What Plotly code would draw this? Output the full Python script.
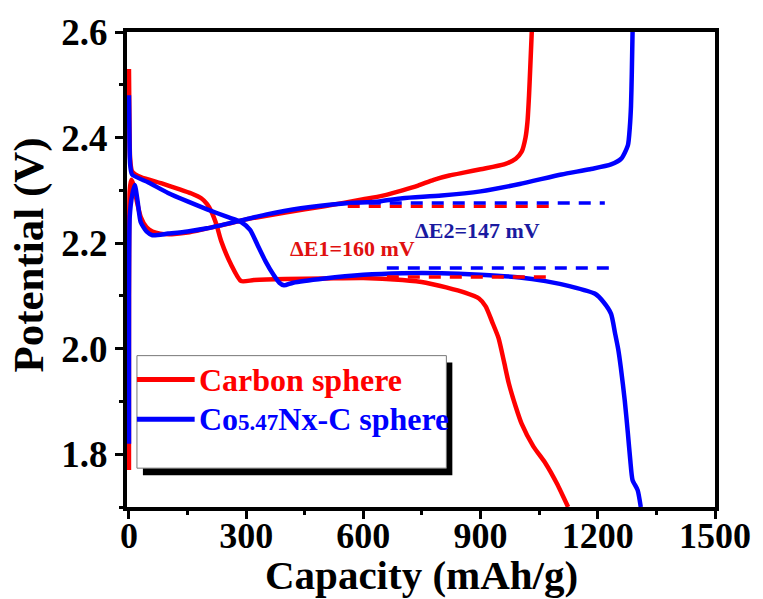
import plotly.graph_objects as go

# ---- galvanostatic discharge / charge profiles (capacity in mAh/g, potential in V) ----
carbon_dis_cap = [0, 1, 3, 8, 30, 84, 130, 160, 185, 200, 211, 224, 236, 261, 287, 320, 400, 500, 600,
                  700, 760, 812, 860, 896, 913, 930, 946, 960, 972, 990, 1005, 1035, 1066, 1095, 1124]
carbon_dis_v = [2.53, 2.45, 2.36, 2.336, 2.325, 2.313, 2.302, 2.294, 2.285, 2.274, 2.26, 2.235, 2.204,
                2.16, 2.128, 2.13, 2.132, 2.133, 2.134, 2.13, 2.125, 2.116, 2.106, 2.095, 2.08, 2.05,
                2.02, 1.975, 1.935, 1.89, 1.858, 1.815, 1.783, 1.745, 1.70]

carbon_chg_cap = [0, 0, 0.5, 2, 6, 12, 20, 30, 45, 60, 80, 110, 150, 200, 250, 300, 400, 500, 600,
                  650, 700, 740, 780, 820, 860, 900, 960, 990, 1005, 1015, 1020, 1024, 1027, 1031]
carbon_chg_v = [1.77, 2.0, 2.2, 2.30, 2.32, 2.31, 2.28, 2.25, 2.23, 2.222, 2.218, 2.217, 2.22, 2.228,
                2.236, 2.245, 2.258, 2.27, 2.283, 2.29, 2.30, 2.309, 2.32, 2.328, 2.334, 2.34, 2.349,
                2.36, 2.373, 2.40, 2.43, 2.48, 2.53, 2.6]

co_dis_cap = [0, 1, 3, 8, 50, 100, 150, 200, 250, 287, 310, 330, 350, 370, 385, 397, 420, 500, 600,
              700, 800, 900, 1000, 1066, 1130, 1193, 1215, 1234, 1244, 1252, 1259, 1269, 1277, 1283,
              1289, 1302, 1310]
co_dis_v = [2.48, 2.42, 2.35, 2.33, 2.315, 2.295, 2.279, 2.264, 2.25, 2.24, 2.225, 2.195, 2.165, 2.14,
            2.125, 2.12, 2.125, 2.133, 2.14, 2.143, 2.143, 2.14, 2.135, 2.128, 2.118, 2.104, 2.088,
            2.066, 2.03, 2.0, 1.964, 1.902, 1.84, 1.79, 1.751, 1.732, 1.70]

co_chg_cap = [0, 0, 2, 8, 15, 22, 30, 45, 60, 100, 150, 200, 270, 350, 440, 550, 640, 700, 800, 900,
              1000, 1107, 1180, 1234, 1260, 1277, 1282, 1285, 1287, 1289]
co_chg_v = [1.82, 2.1, 2.25, 2.29, 2.31, 2.28, 2.24, 2.222, 2.215, 2.218, 2.222, 2.228, 2.24, 2.254,
            2.266, 2.275, 2.279, 2.285, 2.29, 2.298, 2.312, 2.33, 2.34, 2.349, 2.36, 2.385, 2.42,
            2.46, 2.52, 2.6]

# ---- plateau guide lines: [x_start, x_end], level ----
carbon_chg_guide_x = [560, 1091]
carbon_chg_level = 2.270
carbon_dis_guide_x = [660, 1074]
carbon_dis_level = 2.136
co_chg_guide_x = [560, 1218]
co_chg_level = 2.276
co_dis_guide_x = [660, 1251]
co_dis_level = 2.153

series_names = ["Carbon sphere", "Co<span style='font-size:23px'>5.47</span>Nx-C sphere"]
delta_labels = ["ΔE1=160 mV", "ΔE2=147 mV"]
x_ticks = [0, 300, 600, 900, 1200, 1500]
y_ticks = [1.8, 2.0, 2.2, 2.4, 2.6]

RED = "#ff0000"
BLUE = "#0000ff"
FONT = "Liberation Serif"

fig = go.Figure()

for xs, ys, col in [(carbon_dis_cap, carbon_dis_v, RED), (carbon_chg_cap, carbon_chg_v, RED),
                    (co_dis_cap, co_dis_v, BLUE), (co_chg_cap, co_chg_v, BLUE)]:
    fig.add_trace(go.Scatter(x=xs, y=ys, mode="lines",
                             line=dict(color=col, width=4.5, shape="spline", smoothing=0.6),
                             showlegend=False, hoverinfo="skip"))

for gx, lvl, col in [(carbon_chg_guide_x, carbon_chg_level, RED), (carbon_dis_guide_x, carbon_dis_level, RED),
                     (co_chg_guide_x, co_chg_level, BLUE), (co_dis_guide_x, co_dis_level, BLUE)]:
    fig.add_trace(go.Scatter(x=gx, y=[lvl, lvl], mode="lines",
                             line=dict(color=col, width=3.5, dash="12px,9px"),
                             showlegend=False, hoverinfo="skip"))

# plot area in pixels: left 127, right 718, top 30, bottom 507
L, R, T, B = 127, 718, 30, 507
def px(xp):
    return (xp - L) / (R - L)
def py(yp):
    return (B - yp) / (B - T)

shapes = [
    # legend drop shadow and frame
    dict(type="rect", xref="paper", yref="paper", x0=px(143), x1=px(454), y0=py(475), y1=py(362),
         fillcolor="black", line=dict(width=0), layer="above"),
    dict(type="rect", xref="paper", yref="paper", x0=px(137), x1=px(448), y0=py(468), y1=py(355),
         fillcolor="white", line=dict(color="#777777", width=1), layer="above"),
    dict(type="line", xref="paper", yref="paper", x0=px(137), x1=px(195), y0=py(379), y1=py(379),
         line=dict(color=RED, width=5), layer="above"),
    dict(type="line", xref="paper", yref="paper", x0=px(137), x1=px(195), y0=py(419), y1=py(419),
         line=dict(color=BLUE, width=5), layer="above"),
]

annotations = [
    dict(text=series_names[0], xref="paper", yref="paper", x=px(197), y=py(379), xanchor="left",
         yanchor="middle", showarrow=False, font=dict(family=FONT, size=32, color=RED, weight="bold")),
    dict(text=series_names[1], xref="paper", yref="paper", x=px(197), y=py(419), xanchor="left",
         yanchor="middle", showarrow=False, font=dict(family=FONT, size=32, color=BLUE, weight="bold")),
    dict(text=delta_labels[0], xref="x", yref="y", x=406, y=2.189, xanchor="left", yanchor="middle",
         showarrow=False, font=dict(family=FONT, size=22, color="#e01010", weight="bold")),
    dict(text=delta_labels[1], xref="x", yref="y", x=726, y=2.223, xanchor="left", yanchor="middle",
         showarrow=False, font=dict(family=FONT, size=22, color="#1a1aa0", weight="bold")),
    dict(text="Capacity (mAh/g)", xref="paper", yref="paper", x=0.5, y=py(575), xanchor="center",
         yanchor="middle", showarrow=False, font=dict(family=FONT, size=41, color="black", weight="bold")),
    dict(text="Potential (V)", xref="paper", yref="paper", x=px(29), y=py(254), xanchor="center",
         yanchor="middle", textangle=-90, showarrow=False,
         font=dict(family=FONT, size=43, color="black", weight="bold")),
]

axis_common = dict(showline=True, linecolor="black", linewidth=4, mirror=True, ticks="outside",
                   ticklen=8, tickwidth=3, tickcolor="black", showgrid=False, zeroline=False)

fig.update_layout(
    width=763, height=599,
    margin=dict(l=L, r=763 - R, t=T, b=599 - B),
    paper_bgcolor="white", plot_bgcolor="white",
    shapes=shapes, annotations=annotations,
    xaxis=dict(range=[-5, 1500], tickvals=x_ticks, ticktext=[str(v) for v in x_ticks],
               tickfont=dict(family=FONT, size=36, color="black", weight="bold"),
               ticklabelstandoff=-14,
               minor=dict(dtick=150, ticks="outside", ticklen=4, tickwidth=3, tickcolor="black"),
               **axis_common),
    yaxis=dict(range=[1.7, 2.6], tickvals=y_ticks, ticktext=[f"{v:.1f}" for v in y_ticks],
               tickfont=dict(family=FONT, size=37, color="black", weight="bold"),
               minor=dict(dtick=0.1, ticks="outside", ticklen=4, tickwidth=3, tickcolor="black"),
               **axis_common),
)

fig.write_html("out.html")
